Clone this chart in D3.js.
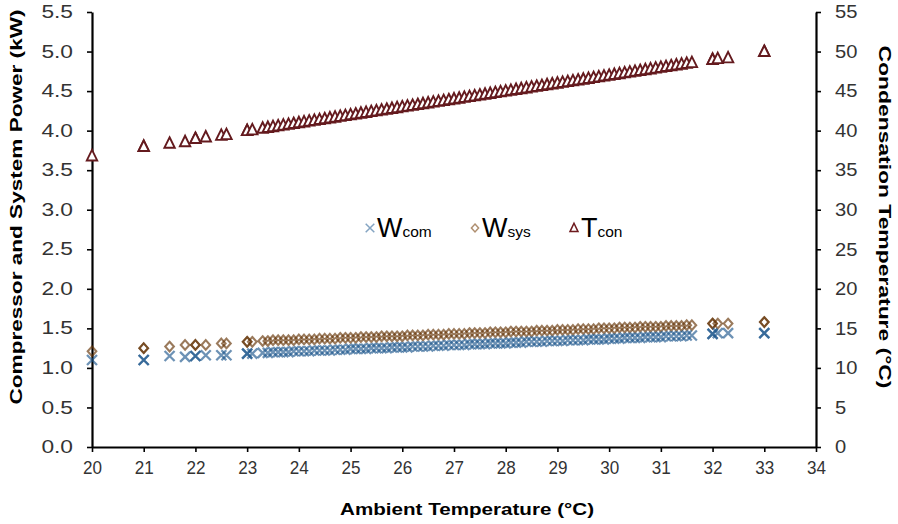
<!DOCTYPE html>
<html><head><meta charset="utf-8">
<script src="https://cdn.jsdelivr.net/npm/d3@7/dist/d3.min.js"></script>
<style>
html,body{margin:0;padding:0;background:#fff;}
svg{display:block;}
</style></head>
<body>
<div id="chart"></div>
<script>
// ---- data ----
const ambient = [20.0, 21.0, 21.0, 21.5, 21.8, 22.0, 22.0, 22.2, 22.5, 22.6, 23.0, 23.0, 23.1,
  23.3, 23.4, 23.5, 23.6, 23.7, 23.8, 23.9, 24.0, 24.1, 24.2,
  24.3, 24.4, 24.5, 24.6, 24.7, 24.8, 24.9, 25.0, 25.1, 25.2,
  25.3, 25.4, 25.5, 25.6, 25.7, 25.8, 25.9, 26.0, 26.1, 26.2,
  26.3, 26.4, 26.5, 26.6, 26.7, 26.8, 26.9, 27.0, 27.1, 27.2,
  27.3, 27.4, 27.5, 27.6, 27.7, 27.8, 27.9, 28.0, 28.1, 28.2,
  28.3, 28.4, 28.5, 28.6, 28.7, 28.8, 28.9, 29.0, 29.1, 29.2,
  29.3, 29.4, 29.5, 29.6, 29.7, 29.8, 29.9, 30.0, 30.1, 30.2,
  30.3, 30.4, 30.5, 30.6, 30.7, 30.8, 30.9, 31.0, 31.1, 31.2,
  31.3, 31.4, 31.5, 31.6,
  32.0, 32.0, 32.1, 32.3, 33.0, 33.0];

const wCom = [1.10, 1.10, 1.10, 1.15, 1.14, 1.15, 1.15, 1.16, 1.16, 1.16, 1.18, 1.18, 1.18,
  1.19, 1.19, 1.20, 1.20, 1.20, 1.20, 1.21, 1.21, 1.21, 1.21,
  1.22, 1.22, 1.22, 1.22, 1.23, 1.23, 1.23, 1.24, 1.24, 1.24,
  1.24, 1.25, 1.25, 1.25, 1.25, 1.26, 1.26, 1.26, 1.26, 1.27,
  1.27, 1.27, 1.27, 1.28, 1.28, 1.28, 1.29, 1.29, 1.29, 1.29,
  1.30, 1.30, 1.30, 1.30, 1.31, 1.31, 1.31, 1.31, 1.32, 1.32,
  1.32, 1.33, 1.33, 1.33, 1.33, 1.34, 1.34, 1.34, 1.34, 1.35,
  1.35, 1.35, 1.35, 1.36, 1.36, 1.36, 1.36, 1.37, 1.37, 1.37,
  1.38, 1.38, 1.38, 1.38, 1.39, 1.39, 1.39, 1.39, 1.40, 1.40,
  1.40, 1.40, 1.41, 1.41,
  1.43, 1.43, 1.44, 1.44, 1.44, 1.44];

const wSys = [1.21, 1.25, 1.25, 1.27, 1.29, 1.29, 1.29, 1.29, 1.31, 1.31, 1.33, 1.33, 1.33,
  1.34, 1.34, 1.35, 1.35, 1.35, 1.35, 1.35, 1.36, 1.36, 1.36,
  1.36, 1.37, 1.37, 1.37, 1.37, 1.38, 1.38, 1.38, 1.38, 1.39,
  1.39, 1.39, 1.39, 1.40, 1.40, 1.40, 1.40, 1.40, 1.41, 1.41,
  1.41, 1.41, 1.42, 1.42, 1.42, 1.42, 1.43, 1.43, 1.43, 1.43,
  1.44, 1.44, 1.44, 1.44, 1.45, 1.45, 1.45, 1.45, 1.46, 1.46,
  1.46, 1.46, 1.46, 1.47, 1.47, 1.47, 1.47, 1.48, 1.48, 1.48,
  1.48, 1.49, 1.49, 1.49, 1.49, 1.50, 1.50, 1.50, 1.50, 1.51,
  1.51, 1.51, 1.51, 1.52, 1.52, 1.52, 1.52, 1.52, 1.53, 1.53,
  1.53, 1.53, 1.54, 1.54,
  1.56, 1.56, 1.56, 1.56, 1.58, 1.58];

const tCon = [36.8, 38.0, 38.0, 38.4, 38.6, 39.0, 39.0, 39.2, 39.4, 39.5, 40.0, 40.0, 40.1,
  40.3, 40.4, 40.5, 40.6, 40.7, 40.8, 40.9, 41.0, 41.1, 41.2,
  41.3, 41.4, 41.5, 41.6, 41.7, 41.8, 41.9, 42.0, 42.1, 42.2,
  42.3, 42.4, 42.5, 42.6, 42.7, 42.8, 42.9, 43.0, 43.1, 43.2,
  43.3, 43.4, 43.5, 43.6, 43.7, 43.8, 43.9, 44.0, 44.1, 44.2,
  44.3, 44.4, 44.5, 44.6, 44.7, 44.8, 44.9, 45.0, 45.1, 45.2,
  45.3, 45.4, 45.5, 45.6, 45.7, 45.8, 45.9, 46.0, 46.1, 46.2,
  46.3, 46.4, 46.5, 46.6, 46.7, 46.8, 46.9, 47.0, 47.1, 47.2,
  47.3, 47.4, 47.5, 47.6, 47.7, 47.8, 47.9, 48.0, 48.1, 48.2,
  48.3, 48.4, 48.5, 48.6,
  49.0, 49.0, 49.1, 49.2, 50.0, 50.0];

const xTicks = [20,21,22,23,24,25,26,27,28,29,30,31,32,33,34];
const yLeftTicks = [0,0.5,1,1.5,2,2.5,3,3.5,4,4.5,5,5.5];
const yRightTicks = [0,5,10,15,20,25,30,35,40,45,50,55];
const legendItems = [
  {key:"wCom", main:"W", sub:"com"},
  {key:"wSys", main:"W", sub:"sys"},
  {key:"tCon", main:"T", sub:"con"}
];

// ---- drawing ----
const W = 898, H = 524;
const m = {left:92, right:816, top:12, bottom:447};
const svg = d3.select("#chart").append("svg").attr("width", W).attr("height", H);

const x = d3.scaleLinear().domain([20,34]).range([m.left, m.right]);
const yL = d3.scaleLinear().domain([0,5.5]).range([m.bottom, m.top]);
const yR = d3.scaleLinear().domain([0,55]).range([m.bottom, m.top]);

const tickFont = "'Liberation Sans', Arial, sans-serif";

function styleAxis(g, size){
  g.select(".domain").attr("stroke","#000").attr("stroke-width",2.2);
  g.selectAll(".tick line").attr("stroke","#000").attr("stroke-width",1.6);
  g.selectAll(".tick text").attr("fill","#333").attr("font-family",tickFont).attr("font-size",size);
}

const gx = svg.append("g").attr("transform",`translate(0,${m.bottom})`)
  .call(d3.axisBottom(x).tickValues(xTicks).tickFormat(d3.format("d")).tickSize(5).tickSizeOuter(0).tickPadding(9));
styleAxis(gx, 18);
gx.selectAll(".tick text").attr("transform","scale(0.95,1)");

const gyl = svg.append("g").attr("transform",`translate(${m.left},0)`)
  .call(d3.axisLeft(yL).tickValues(yLeftTicks).tickFormat(d3.format(".1f")).tickSize(5).tickSizeOuter(0).tickPadding(0));
styleAxis(gyl, 17.5);
gyl.selectAll(".tick text").attr("x",0).attr("transform","translate(-19,0) scale(1.3,1)");

const gyr = svg.append("g").attr("transform",`translate(${m.right},0)`)
  .call(d3.axisRight(yR).tickValues(yRightTicks).tickFormat(d3.format("d")).tickSize(5).tickSizeOuter(0).tickPadding(0));
styleAxis(gyr, 18);
gyr.selectAll(".tick text").attr("x",0).attr("transform","translate(19,0) scale(1.12,1)");

// markers
function xPath(s){ return `M${-s},${-s}L${s},${s}M${-s},${s}L${s},${-s}`; }
function diamondPath(w,h){ return `M0,${-h}L${w},0L0,${h}L${-w},0Z`; }
function triPath(w,h){ return `M0,${-h*0.6}L${w},${h*0.45}L${-w},${h*0.45}Z`; }

const pts = ambient.map((a,i)=>({a, wc:wCom[i], ws:wSys[i], tc:tCon[i]}));

const plot = svg.append("g");
plot.selectAll("path.ws").data(pts).join("path").attr("class","ws")
  .attr("d", diamondPath(4.3,4.8))
  .attr("transform", d=>`translate(${x(d.a)},${yL(d.ws)})`)
  .attr("fill","none").attr("stroke","#663507").attr("stroke-opacity",0.66).attr("stroke-width",2.1);

plot.selectAll("path.wc").data(pts).join("path").attr("class","wc")
  .attr("d", xPath(5))
  .attr("transform", d=>`translate(${x(d.a)},${yL(d.wc)})`)
  .attr("fill","none").attr("stroke","#1a558c").attr("stroke-opacity",0.64).attr("stroke-width",2.3);

plot.selectAll("path.tc").data(pts).join("path").attr("class","tc")
  .attr("d", triPath(5.2,10))
  .attr("transform", d=>`translate(${x(d.a)},${yR(d.tc)})`)
  .attr("fill","#fff").attr("stroke","#641a1e").attr("stroke-width",1.9);

// legend
const leg = svg.append("g").attr("font-family",tickFont).attr("fill","#000");
const legX = [370, 475, 574];
const legY = 228;
legendItems.forEach((it,i)=>{
  const g = leg.append("g").attr("transform",`translate(${legX[i]},${legY})`);
  if(it.key==="wCom") g.append("path").attr("d",xPath(4.3)).attr("fill","none").attr("stroke","#1f5a90").attr("stroke-opacity",0.55).attr("stroke-width",1.5);
  if(it.key==="wSys") g.append("path").attr("d",diamondPath(3.6,4)).attr("fill","none").attr("stroke","#7a4510").attr("stroke-opacity",0.6).attr("stroke-width",1.5);
  if(it.key==="tCon") g.append("path").attr("d",triPath(4,8)).attr("fill","#fff").attr("stroke","#6e1a1e").attr("stroke-width",1.5);
  const t = g.append("text").attr("x",7).attr("y",9).attr("font-size",27);
  t.append("tspan").text(it.main);
  t.append("tspan").attr("font-size",15.5).text(it.sub);
});

// axis titles
const titleFont = "'Liberation Sans Narrow','Arial Narrow','Liberation Sans',Arial,sans-serif";
svg.append("text").attr("x",467).attr("y",515).attr("text-anchor","middle")
  .attr("font-family",titleFont).attr("font-weight","bold").attr("font-size",17)
  .attr("textLength",254).attr("lengthAdjust","spacingAndGlyphs")
  .text("Ambient  Temperature (°C)");
svg.append("text").attr("transform","translate(22,207) rotate(-90)").attr("text-anchor","middle")
  .attr("font-family",titleFont).attr("font-weight","bold").attr("font-size",17)
  .attr("textLength",395).attr("lengthAdjust","spacingAndGlyphs")
  .text("Compressor and System Power (kW)");
svg.append("text").attr("transform","translate(879,217) rotate(90)").attr("text-anchor","middle")
  .attr("font-family",titleFont).attr("font-weight","bold").attr("font-size",17)
  .attr("textLength",343).attr("lengthAdjust","spacingAndGlyphs")
  .text("Condensation Temperature (°C)");
</script>
</body></html>
